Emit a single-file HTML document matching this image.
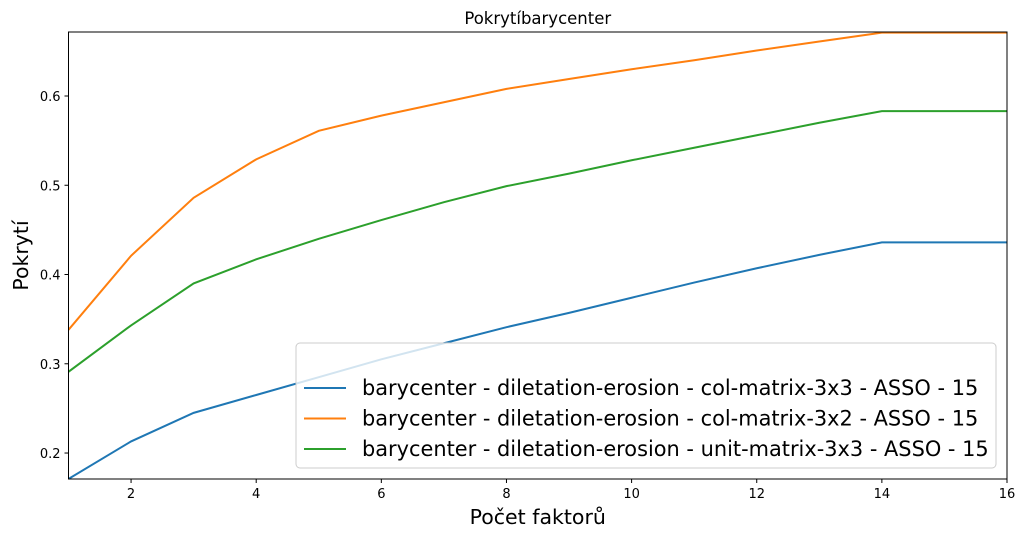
<!DOCTYPE html>
<html><head><meta charset="utf-8"><style>
body{margin:0;background:#fff;}
svg text{font-family:"DejaVu Sans","Liberation Sans",sans-serif;}
</style></head><body>
<svg id="chart" width="1025" height="538" xmlns="http://www.w3.org/2000/svg"></svg>
<script>
const xValues=[1,2,3,4,5,6,7,8,9,10,11,12,13,14,15,16];
const seriesBlue=[0.171,0.213,0.245,0.265,0.285,0.305,0.323,0.341,0.357,0.374,0.391,0.407,0.422,0.436,0.436,0.436];
const seriesOrange=[0.338,0.421,0.486,0.529,0.561,0.578,0.593,0.608,0.619,0.630,0.640,0.651,0.661,0.671,0.671,0.671];
const seriesGreen=[0.291,0.343,0.390,0.417,0.440,0.461,0.481,0.499,0.513,0.528,0.542,0.556,0.570,0.583,0.583,0.583];
const xTicks=[2,4,6,8,10,12,14,16];
const yTicks=[0.2,0.3,0.4,0.5,0.6];
const seriesNames=["barycenter - diletation-erosion - col-matrix-3x3 - ASSO - 15","barycenter - diletation-erosion - col-matrix-3x2 - ASSO - 15","barycenter - diletation-erosion - unit-matrix-3x3 - ASSO - 15"];

const svg=document.getElementById('chart');
const NS='http://www.w3.org/2000/svg';
const L=68.5,R=1007,T=32,B=479;
const xmin=1,xmax=16,ymin=0.1709,ymax=0.6717;
const sx=v=>L+(v-xmin)/(xmax-xmin)*(R-L);
const sy=v=>B-(v-ymin)/(ymax-ymin)*(B-T);
function mk(tag,attrs,parent){const e=document.createElementNS(NS,tag);for(const k in attrs)e.setAttribute(k,attrs[k]);(parent||svg).appendChild(e);return e;}

const defs=mk('defs',{});
const cp=mk('clipPath',{id:'clip'},defs);
mk('rect',{x:L,y:T,width:R-L,height:B-T},cp);

const colors=['#1f77b4','#ff7f0e','#2ca02c'];
const allSeries=[seriesBlue,seriesOrange,seriesGreen];
allSeries.forEach((s,i)=>{
  const p=mk('polyline',{points:s.map((v,j)=>sx(xValues[j])+','+sy(v)).join(' '),fill:'none',stroke:colors[i],'stroke-width':2,'clip-path':'url(#clip)'});
  
  
});

const frame=mk('rect',{x:L,y:T,width:R-L,height:B-T,fill:'none',stroke:'#000','stroke-width':1});



xTicks.forEach(t=>{
  const x=sx(t);
  mk('line',{x1:x,x2:x,y1:B,y2:B+4,stroke:'#000'});
  const tx=mk('text',{x:x,y:B+19,'font-size':13,'text-anchor':'middle'});
  tx.textContent=t;
  
  
});
yTicks.forEach(t=>{
  const y=sy(t);
  mk('line',{x1:L-4,x2:L,y1:y,y2:y,stroke:'#000'});
  const tx=mk('text',{x:L-8,y:y+5,'font-size':13,'text-anchor':'end'});
  tx.textContent=t.toFixed(1);
  
  
});

const title=mk('text',{x:(L+R)/2,y:24,'font-size':16.5,'text-anchor':'middle'});
title.textContent='Pokrytíbarycenter';



const xt=mk('text',{x:(L+R)/2,y:524,'font-size':20.5,'text-anchor':'middle'});
xt.textContent='Počet faktorů';



const yt=mk('text',{x:28,y:(T+B)/2,'font-size':20.5,'text-anchor':'middle',transform:'rotate(-90 28 '+((T+B)/2)+')'});
yt.textContent='Pokrytí';



const lg=mk('g',{});


mk('rect',{x:296,y:343,width:700,height:125,rx:4,fill:'#fff','fill-opacity':0.8,stroke:'#ccc'},lg);
seriesNames.forEach((n,i)=>{
  const y=388+i*30.5;
  mk('line',{x1:304,x2:346,y1:y,y2:y,stroke:colors[i],'stroke-width':2},lg);
  const t=mk('text',{x:362,y:y+7,'font-size':20.9},lg);
  t.textContent=n;
  
  
});
</script>
</body></html>
